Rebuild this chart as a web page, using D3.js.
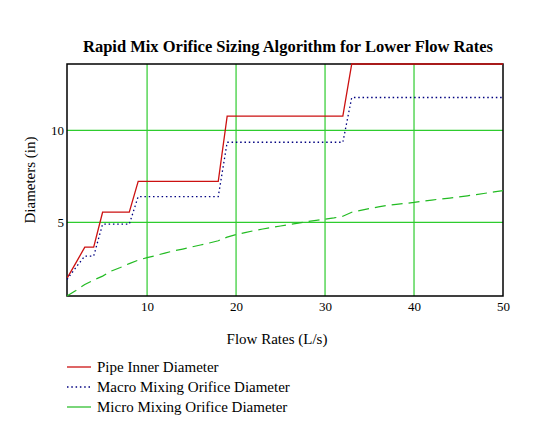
<!DOCTYPE html>
<html>
<head>
<meta charset="utf-8">
<script src="https://cdn.jsdelivr.net/npm/d3@7"></script>
<style>
  html, body { margin: 0; padding: 0; background: #fff; }
  svg { display: block; font-family: "Liberation Serif", "Times New Roman", serif; }
  svg text { font-family: "Liberation Serif", "Times New Roman", serif !important; }
</style>
</head>
<body>
<svg id="chart" width="536" height="430"></svg>
<script>
// ---- Data ----
const flowRates = [1,2,3,4,5,6,7,8,9,10,11,12,13,14,15,16,17,18,19,20,21,22,23,24,25,26,27,28,29,30,31,32,33,34,35,36,37,38,39,40,41,42,43,44,45,46,47,48,49,50];
const pipeInner = [1.96,2.8,3.65,3.65,5.55,5.55,5.55,5.55,7.23,7.23,7.23,7.23,7.23,7.23,7.23,7.23,7.23,7.23,10.77,10.77,10.77,10.77,10.77,10.77,10.77,10.77,10.77,10.77,10.77,10.77,10.77,10.77,13.6,13.6,13.6,13.6,13.6,13.6,13.6,13.6,13.6,13.6,13.6,13.6,13.6,13.6,13.6,13.6,13.6,13.6];
const macroOrifice = [1.9,2.55,3.17,3.17,4.9,4.9,4.9,4.9,6.4,6.4,6.4,6.4,6.4,6.4,6.4,6.4,6.4,6.4,9.35,9.35,9.35,9.35,9.35,9.35,9.35,9.35,9.35,9.35,9.35,9.35,9.35,9.35,11.78,11.78,11.78,11.78,11.78,11.78,11.78,11.78,11.78,11.78,11.78,11.78,11.78,11.78,11.78,11.78,11.78,11.78];
const microOrifice = [1.0,1.3,1.62,1.87,2.08,2.36,2.55,2.76,2.95,3.08,3.2,3.33,3.45,3.55,3.66,3.77,3.88,4.0,4.2,4.34,4.44,4.55,4.64,4.72,4.8,4.88,4.96,5.04,5.11,5.17,5.24,5.33,5.55,5.65,5.75,5.84,5.92,5.98,6.03,6.08,6.15,6.21,6.27,6.32,6.38,6.44,6.51,6.58,6.65,6.72];
const xTicks = [10,20,30,40,50];
const yTicks = [5,10];
const seriesNames = ["Pipe Inner Diameter","Macro Mixing Orifice Diameter","Micro Mixing Orifice Diameter"];
const titleText = "Rapid Mix Orifice Sizing Algorithm for Lower Flow Rates";
const xLabel = "Flow Rates (L/s)";
const yLabel = "Diameters (in)";

// ---- Layout ----
const svg = d3.select("#chart");
const L = 67, R = 503, T = 64, B = 296;
const x = d3.scaleLinear().domain([1, 50]).range([L, R]);
const y = d3.scaleLinear().domain([1, 13.6]).range([B, T]);

const gridColor = "#2ecc2e";
const styles = [
  { color: "#cc1111", dash: null, width: 1.3 },
  { color: "#000080", dash: "1.5,2.8", width: 1.3 },
  { color: "#22bb22", dash: "11,6", width: 1.2 }
];

// Title
svg.append("text").attr("x", 288).attr("y", 52).attr("text-anchor", "middle")
  .attr("font-size", 16.5).attr("font-weight", "bold").text(titleText);

// Grid
svg.append("g").selectAll("line").data(xTicks.filter(d => d < 50)).join("line")
  .attr("x1", d => x(d)).attr("x2", d => x(d)).attr("y1", T).attr("y2", B)
  .attr("stroke", gridColor).attr("stroke-width", 1.2);
svg.append("g").selectAll("line").data(yTicks).join("line")
  .attr("x1", L).attr("x2", R).attr("y1", d => y(d)).attr("y2", d => y(d))
  .attr("stroke", gridColor).attr("stroke-width", 1.2);

// Axes (labels only)
const xAxis = svg.append("g").attr("transform", `translate(0,${B})`)
  .call(d3.axisBottom(x).tickValues(xTicks).tickSize(0).tickPadding(6).tickFormat(d3.format("d")));
xAxis.attr("font-family", null);
xAxis.select(".domain").remove();
xAxis.selectAll("text").attr("font-size", 13).attr("fill", "#000");

const yAxis = svg.append("g").attr("transform", `translate(${L},0)`)
  .call(d3.axisLeft(y).tickValues(yTicks).tickSize(0).tickPadding(3).tickFormat(d3.format("d")));
yAxis.attr("font-family", null);
yAxis.select(".domain").remove();
yAxis.selectAll("text").attr("font-size", 13).attr("fill", "#000");

// Clip
svg.append("clipPath").attr("id", "clip").append("rect")
  .attr("x", L).attr("y", T - 1).attr("width", R - L).attr("height", B - T + 2);

// Border
svg.append("rect").attr("x", L).attr("y", T).attr("width", R - L).attr("height", B - T)
  .attr("fill", "none").attr("stroke", "#000").attr("stroke-width", 1.5);

// Lines
const allSeries = [pipeInner, macroOrifice, microOrifice];
const line = d3.line().x((d, i) => x(flowRates[i])).y(d => y(d));
const lg = svg.append("g").attr("clip-path", "url(#clip)");
allSeries.forEach((s, k) => {
  lg.append("path").datum(s).attr("d", line).attr("fill", "none")
    .attr("stroke", styles[k].color).attr("stroke-width", styles[k].width)
    .attr("stroke-dasharray", styles[k].dash);
});

// Axis titles
svg.append("text").attr("x", 277).attr("y", 344).attr("text-anchor", "middle")
  .attr("font-size", 15).text(xLabel);
svg.append("text").attr("transform", "translate(35,180) rotate(-90)").attr("text-anchor", "middle")
  .attr("font-size", 15).text(yLabel);

// Legend
const legY = [367, 387, 407];
seriesNames.forEach((name, k) => {
  svg.append("line").attr("x1", 67).attr("x2", 91).attr("y1", legY[k]).attr("y2", legY[k])
    .attr("stroke", styles[k].color).attr("stroke-width", styles[k].width)
    .attr("stroke-dasharray", k === 2 ? null : styles[k].dash);
  svg.append("text").attr("x", 97).attr("y", legY[k] + 5).attr("font-size", 15).text(name);
});
</script>
</body>
</html>
